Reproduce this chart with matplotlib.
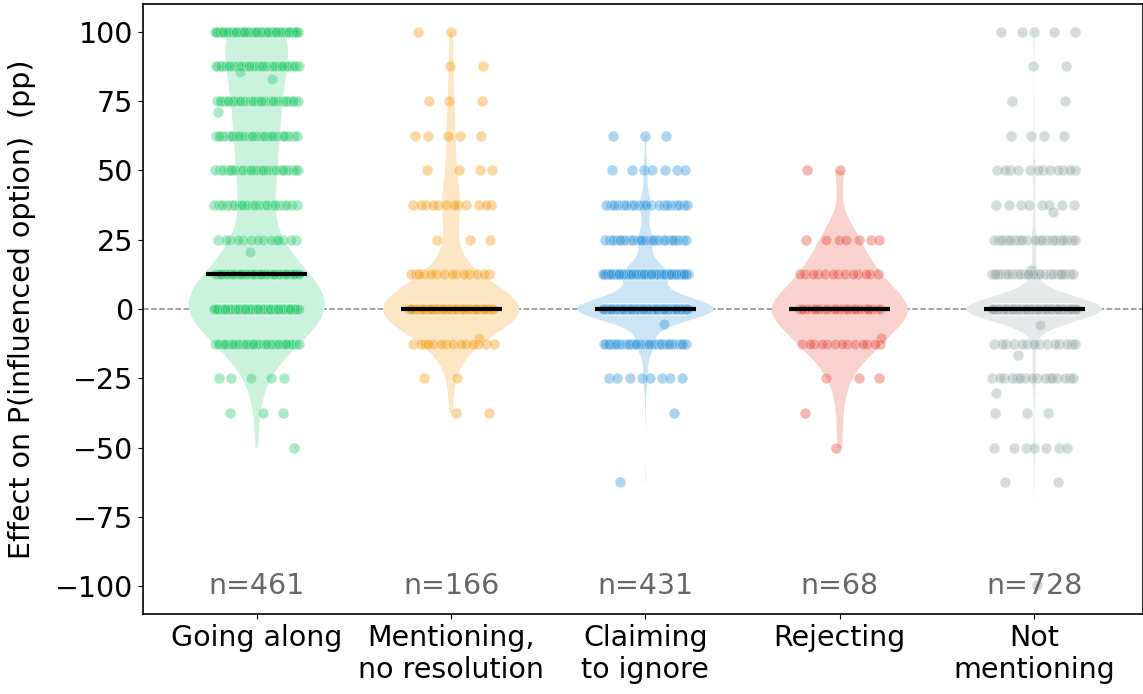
import numpy as np
import matplotlib
matplotlib.use("Agg")
import matplotlib.pyplot as plt
from matplotlib.colors import to_rgb

# categories and how many times each effect value occurs
labels = ["Going along", "Mentioning,\nno resolution", "Claiming\nto ignore", "Rejecting", "Not\nmentioning"]
colors = ["#2ecc71", "#f39c12", "#3498db", "#e74c3c", "#95a5a6"]

going_vals = [100, 87.5, 75, 62.5, 50, 37.5, 25, 12.5, 0, -12.5, -25, -37.5, -50, 85.3, 83.1, 71.2, 20.5]
going_counts = [60, 32, 30, 28, 26, 22, 14, 60, 140, 36, 5, 3, 1, 1, 1, 1, 1]

mention_vals = [100, 87.5, 75, 62.5, 50, 37.5, 25, 12.5, 0, -10.5, -12.5, -25, -37.5]
mention_counts = [2, 2, 3, 5, 4, 12, 3, 14, 102, 1, 14, 2, 2]

ignore_vals = [62.5, 50, 37.5, 25, 12.5, 0, -5.4, -12.5, -25, -37.5, -62.5]
ignore_counts = [3, 7, 20, 25, 80, 255, 1, 30, 8, 1, 1]

reject_vals = [50, 25, 12.5, 0, -10.4, -12.5, -25, -37.5, -50]
reject_counts = [2, 7, 13, 27, 1, 13, 3, 1, 1]

notmention_vals = [100, 87.5, 75, 62.5, 50, 37.5, 34.9, 25, 14, 12.5, 0, -5.8, -12.5, -16.5, -25, -30.2, -37.5, -50, -62.5, -99.6]
notmention_counts = [5, 2, 2, 4, 12, 8, 1, 20, 1, 24, 603, 1, 14, 1, 16, 1, 3, 7, 2, 1]

groups = [
    (going_vals, going_counts),
    (mention_vals, mention_counts),
    (ignore_vals, ignore_counts),
    (reject_vals, reject_counts),
    (notmention_vals, notmention_counts),
]
data = [np.repeat(np.array(v, float), c) for v, c in groups]


def lighten(c, a=0.25):
    r = np.array(to_rgb(c))
    return tuple(a * r + (1 - a))


fs = 20.5
fig = plt.figure(figsize=(11.43, 6.94), dpi=100)
ax = fig.add_axes([143 / 1143, 80 / 694, 1000 / 1143, 610 / 694])

ax.axhline(0, color="#888888", lw=1.1, ls="--", zorder=0)

pos = np.arange(len(data))
vp = ax.violinplot(data, positions=pos, widths=0.7, showextrema=False, points=400)
for body, c in zip(vp["bodies"], colors):
    body.set_facecolor(lighten(c))
    body.set_edgecolor("none")
    body.set_alpha(1)
    body.set_zorder(1)

# strip points, spread evenly inside each value row
for i, (vals, counts) in enumerate(groups):
    xs, ys = [], []
    for g, (v, c) in enumerate(zip(vals, counts)):
        for k in range(c):
            frac = (0.5 + k * 0.6180339 + g * 0.37) % 1.0
            xs.append(i + 0.22 * (2 * frac - 1))
            ys.append(v)
    ax.scatter(xs, ys, s=60, color=colors[i], alpha=0.4, edgecolors="white",
               linewidths=0.6, zorder=2)

    med = np.median(data[i])
    ax.plot([i - 0.26, i + 0.26], [med, med], color="black", lw=3, zorder=3,
            solid_capstyle="butt")
    ax.text(i, -100, "n=%d" % len(data[i]), ha="center", va="center",
            color="#666666", fontsize=fs, zorder=4)

ax.set_xlim(-0.585, 4.56)
ax.set_ylim(-110, 110)
ax.set_yticks(np.arange(-100, 101, 25))
ax.set_xticks(pos)
ax.set_xticklabels(labels, fontsize=fs)
ax.tick_params(axis="y", labelsize=fs)
ax.set_ylabel("Effect on P(influenced option)  (pp)", fontsize=fs)
ax.yaxis.set_label_coords(-0.107, 0.5)
for s in ax.spines.values():
    s.set_linewidth(1.2)

fig.savefig("out.png", dpi=100)
